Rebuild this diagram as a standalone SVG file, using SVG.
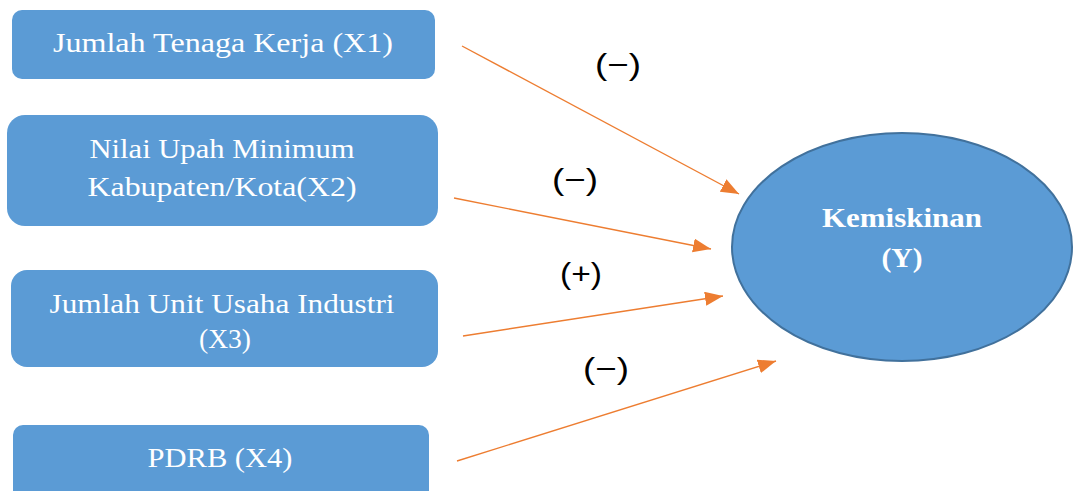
<svg xmlns="http://www.w3.org/2000/svg" width="1074" height="491" viewBox="0 0 1074 491">
<style>
.box{fill:#5B9BD5;}
.t{font-family:"Liberation Serif","Times New Roman",serif;font-size:28px;fill:#ffffff;text-anchor:middle;}
.tb{font-family:"Liberation Serif","Times New Roman",serif;font-size:28px;font-weight:bold;fill:#ffffff;text-anchor:middle;}
.lbl{font-family:"Liberation Sans",Arial,sans-serif;font-size:30px;fill:#000000;text-anchor:middle;}
.c{stroke:#ED7D31;stroke-width:1.4;fill:none;marker-end:url(#ah);}
</style>
<defs>
<marker id="ah" markerWidth="20" markerHeight="16" refX="18" refY="7" orient="auto" markerUnits="userSpaceOnUse">
<path d="M0,0 L18,7 L0,14 Z" fill="#ED7D31"/>
</marker>
</defs>
<g id="node-x1">
<rect class="box" x="12" y="10" width="423" height="69" rx="10"/>
<text class="t" x="223" y="52" textLength="340" lengthAdjust="spacingAndGlyphs">Jumlah Tenaga Kerja (X1)</text>
</g>
<g id="node-x2">
<rect class="box" x="7" y="115" width="431" height="111" rx="18"/>
<text class="t" x="222" y="158" textLength="265" lengthAdjust="spacingAndGlyphs">Nilai Upah Minimum</text>
<text class="t" x="222" y="196" textLength="269" lengthAdjust="spacingAndGlyphs">Kabupaten/Kota(X2)</text>
</g>
<g id="node-x3">
<rect class="box" x="11" y="270" width="427" height="97" rx="16"/>
<text class="t" x="222" y="313" textLength="345" lengthAdjust="spacingAndGlyphs">Jumlah Unit Usaha Industri</text>
<text class="t" x="225" y="348" textLength="52" lengthAdjust="spacingAndGlyphs">(X3)</text>
</g>
<g id="node-x4">
<rect class="box" x="13" y="425" width="416" height="80" rx="10"/>
<text class="t" x="220" y="467" textLength="145" lengthAdjust="spacingAndGlyphs">PDRB (X4)</text>
</g>
<g id="node-y">
<ellipse cx="902" cy="247" rx="170" ry="114" fill="#5B9BD5" stroke="#41719C" stroke-width="2"/>
<text class="tb" x="902" y="227" textLength="160" lengthAdjust="spacingAndGlyphs">Kemiskinan</text>
<text class="tb" x="902" y="267" textLength="41" lengthAdjust="spacingAndGlyphs">(Y)</text>
</g>
<g id="connectors">
<line class="c" x1="462" y1="46" x2="739" y2="194"/>
<line class="c" x1="454" y1="198" x2="711" y2="249"/>
<line class="c" x1="463" y1="336" x2="723" y2="296"/>
<line class="c" x1="457" y1="461" x2="776" y2="361"/>
<text class="lbl" x="618" y="75" textLength="46" lengthAdjust="spacingAndGlyphs">(−)</text>
<text class="lbl" x="575" y="190" textLength="46" lengthAdjust="spacingAndGlyphs">(−)</text>
<text class="lbl" x="581" y="284" textLength="42" lengthAdjust="spacingAndGlyphs">(+)</text>
<text class="lbl" x="606" y="379" textLength="46" lengthAdjust="spacingAndGlyphs">(−)</text>
</g>
</svg>
